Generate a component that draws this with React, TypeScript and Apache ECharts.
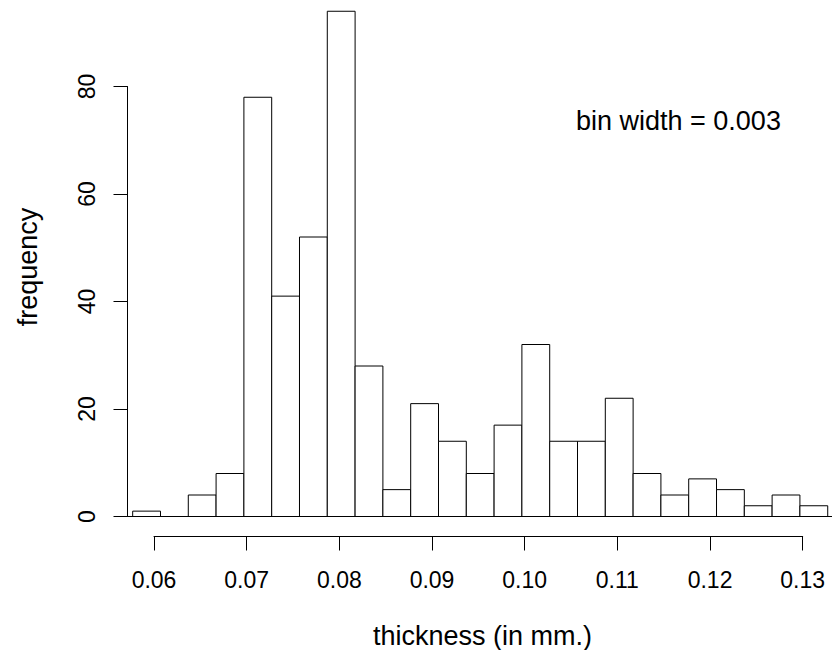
import React, { useEffect, useRef } from "react";
import * as echarts from "echarts";

// Histogram data
const binStart = 0.0577;
const binWidth = 0.003;
const counts = [1, 0, 4, 8, 78, 41, 52, 94, 28, 5, 21, 14, 8, 17, 32, 14, 14, 22, 8, 4, 7, 5, 2, 4, 2];
const xTicks = [0.06, 0.07, 0.08, 0.09, 0.1, 0.11, 0.12, 0.13];
const yTicks = [0, 20, 40, 60, 80];
const xTitle = "thickness (in mm.)";
const yTitle = "frequency";
const note = "bin width = 0.003";

const FONT = '"Liberation Sans", Arial, Helvetica, sans-serif';

export default function App() {
  const ref = useRef<HTMLDivElement>(null);
  useEffect(() => {
    if (!ref.current) return;
    const chart = echarts.init(ref.current, undefined, { renderer: "svg" });
    const bins = counts.map((c, i) => [binStart + i * binWidth, binStart + (i + 1) * binWidth, c]);
    const yAxisOffset = 26.5;
    const option: any = {
      animation: false,
      backgroundColor: "#ffffff",
      grid: { left: 154, right: 29.3, top: 86.5, bottom: 133.5, containLabel: false },
      xAxis: {
        type: "value",
        min: xTicks[0],
        max: xTicks[xTicks.length - 1],
        interval: 0.01,
        offset: 20,
        axisLine: { show: true, onZero: false, lineStyle: { color: "#000", width: 1 } },
        axisTick: { show: true, length: 14, lineStyle: { color: "#000", width: 1 } },
        splitLine: { show: false },
        axisLabel: {
          color: "#000",
          fontSize: 23,
          fontFamily: FONT,
          margin: 43.5,
          verticalAlign: "middle",
          formatter: (v: number) => v.toFixed(2),
        },
      },
      yAxis: {
        type: "value",
        min: yTicks[0],
        max: yTicks[yTicks.length - 1],
        interval: 20,
        offset: yAxisOffset,
        axisLine: { show: true, onZero: false, lineStyle: { color: "#000", width: 1 } },
        axisTick: { show: true, length: 14, lineStyle: { color: "#000", width: 1 } },
        splitLine: { show: false },
        axisLabel: {
          color: "#000",
          fontSize: 23,
          fontFamily: FONT,
          rotate: 90,
          margin: 40.6,
          align: "center",
          verticalAlign: "middle",
        },
      },
      series: [
        {
          type: "custom",
          clip: false,
          data: bins,
          encode: { x: [0, 1], y: 2 },
          renderItem: (params: any, api: any) => {
            const p0 = api.coord([api.value(0), 0]);
            const p1 = api.coord([api.value(1), api.value(2)]);
            return {
              type: "rect",
              shape: { x: p0[0], y: p1[1], width: p1[0] - p0[0], height: p0[1] - p1[1] },
              style: { fill: "#ffffff", stroke: "#000000", lineWidth: 1 },
            };
          },
        },
        {
          type: "custom",
          clip: false,
          data: [[0]],
          encode: { y: 0 },
          z: 5,
          renderItem: (params: any, api: any) => {
            const y = api.coord([xTicks[0], api.value(0)])[1];
            const x1 = params.coordSys.x - yAxisOffset;
            const x2 = api.getWidth();
            return {
              type: "line",
              shape: { x1, y1: y, x2, y2: y },
              style: { stroke: "#000000", lineWidth: 1 },
            };
          },
        },
      ],
      graphic: [
        {
          type: "text",
          x: 576,
          y: 121.3,
          style: { text: note, fill: "#000", font: `27px ${FONT}`, verticalAlign: "middle", align: "left" },
        },
        {
          type: "text",
          x: 482.5,
          y: 635.6,
          style: { text: xTitle, fill: "#000", font: `27px ${FONT}`, verticalAlign: "middle", align: "center" },
        },
        {
          type: "text",
          x: 28,
          y: 267,
          rotation: Math.PI / 2,
          style: { text: yTitle, fill: "#000", font: `27px ${FONT}`, verticalAlign: "middle", align: "center" },
        },
      ],
    };
    chart.setOption(option);
    return () => chart.dispose();
  }, []);
  return <div ref={ref} style={{ position: "absolute", left: 0, top: 0, width: 832, height: 650 }} />;
}
